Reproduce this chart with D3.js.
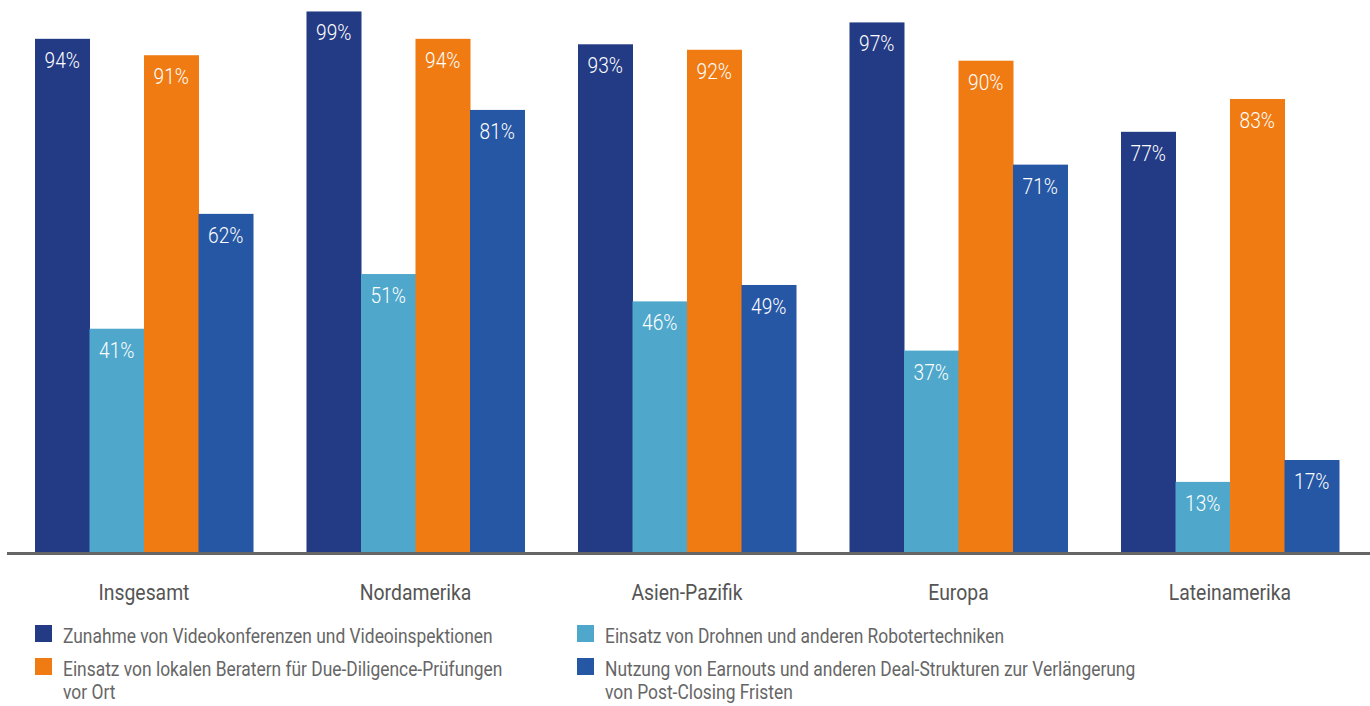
<!DOCTYPE html>
<html>
<head>
<meta charset="utf-8">
<script src="https://cdn.jsdelivr.net/npm/d3@7"></script>
<style>
  html, body { margin: 0; padding: 0; background: #fff; }
  svg text { font-family: "Roboto", "Liberation Sans", sans-serif; }
</style>
</head>
<body>
<svg id="chart" width="1370" height="706"></svg>
<script>
// Regions on the x axis
const regions = ["Insgesamt", "Nordamerika", "Asien-Pazifik", "Europa", "Lateinamerika"];

// Series names (legend)
const seriesNames = [
  "Zunahme von Videokonferenzen und Videoinspektionen",
  "Einsatz von Drohnen und anderen Robotertechniken",
  "Einsatz von lokalen Beratern für Due-Diligence-Prüfungen vor Ort",
  "Nutzung von Earnouts und anderen Deal-Strukturen zur Verlängerung von Post-Closing Fristen"
];

// Values in percent, one array per series
const videoValues   = [94, 99, 93, 97, 77];
const droneValues   = [41, 51, 46, 37, 13];
const adviserValues = [91, 94, 92, 90, 83];
const earnoutValues = [62, 81, 49, 71, 17];

const seriesValues = [videoValues, droneValues, adviserValues, earnoutValues];
const colors = ["#233a84", "#4fa8cb", "#ef7b12", "#2657a4"];

const svg = d3.select("#chart");

const baseY = 553;
const x0 = d3.scaleBand().domain(regions).range([35, 1339]).paddingInner(0.197).paddingOuter(0);
const x1 = d3.scaleBand().domain(d3.range(seriesValues.length)).range([0, x0.bandwidth()]);
const y = d3.scaleLinear().domain([0, 100]).range([baseY, 6]);

const groups = svg.append("g").selectAll("g")
  .data(regions)
  .join("g")
  .attr("transform", d => `translate(${x0(d)},0)`);

const cells = groups.selectAll("g")
  .data((d, i) => seriesValues.map((vals, s) => ({ s, v: vals[i] })))
  .join("g");

cells.append("rect")
  .attr("x", d => x1(d.s))
  .attr("width", x1.bandwidth() + 0.5)
  .attr("y", d => y(d.v))
  .attr("height", d => baseY - y(d.v))
  .attr("fill", d => colors[d.s]);

// Value labels, condensed horizontally
cells.append("text")
  .attr("transform", d => `translate(${x1(d.s) + x1.bandwidth() / 2},${y(d.v) + 29}) scale(0.87,1)`)
  .attr("text-anchor", "middle")
  .attr("fill", "#fff")
  .attr("font-size", 22)
  .attr("font-weight", 300)
  .text(d => d.v + "%");

// Baseline
svg.append("line")
  .attr("x1", 7).attr("x2", 1370)
  .attr("y1", baseY + 0.5).attr("y2", baseY + 0.5)
  .attr("stroke", "#666").attr("stroke-width", 3);

// Category labels
const xAxis = d3.axisBottom(x0).tickSize(0).tickPadding(0);
const axisG = svg.append("g").attr("transform", `translate(0,${baseY})`).call(xAxis);
axisG.select(".domain").remove();
axisG.selectAll("text")
  .attr("y", 0)
  .attr("dy", 0)
  .attr("transform", "translate(0,47) scale(0.88,1)")
  .attr("fill", "#555")
  .attr("font-size", 22)
  .attr("font-family", null);

// Legend
const legendItems = [
  { s: 0, x: 35, y: 625, lines: [seriesNames[0]] },
  { s: 2, x: 35, y: 658, lines: ["Einsatz von lokalen Beratern für Due-Diligence-Prüfungen", "vor Ort"] },
  { s: 1, x: 577, y: 625, lines: [seriesNames[1]] },
  { s: 3, x: 577, y: 658, lines: ["Nutzung von Earnouts und anderen Deal-Strukturen zur Verlängerung", "von Post-Closing Fristen"] }
];

const leg = svg.append("g").selectAll("g").data(legendItems).join("g")
  .attr("transform", d => `translate(${d.x},${d.y})`);
leg.append("rect").attr("width", 17).attr("height", 17).attr("fill", d => colors[d.s]);
leg.append("text")
  .attr("transform", "translate(28,0) scale(0.87,1)")
  .attr("font-size", 20)
  .attr("fill", "#666")
  .selectAll("tspan")
  .data(d => d.lines)
  .join("tspan")
  .attr("x", 0)
  .attr("y", (d, i) => 18 + i * 23)
  .text(d => d);
</script>
</body>
</html>
